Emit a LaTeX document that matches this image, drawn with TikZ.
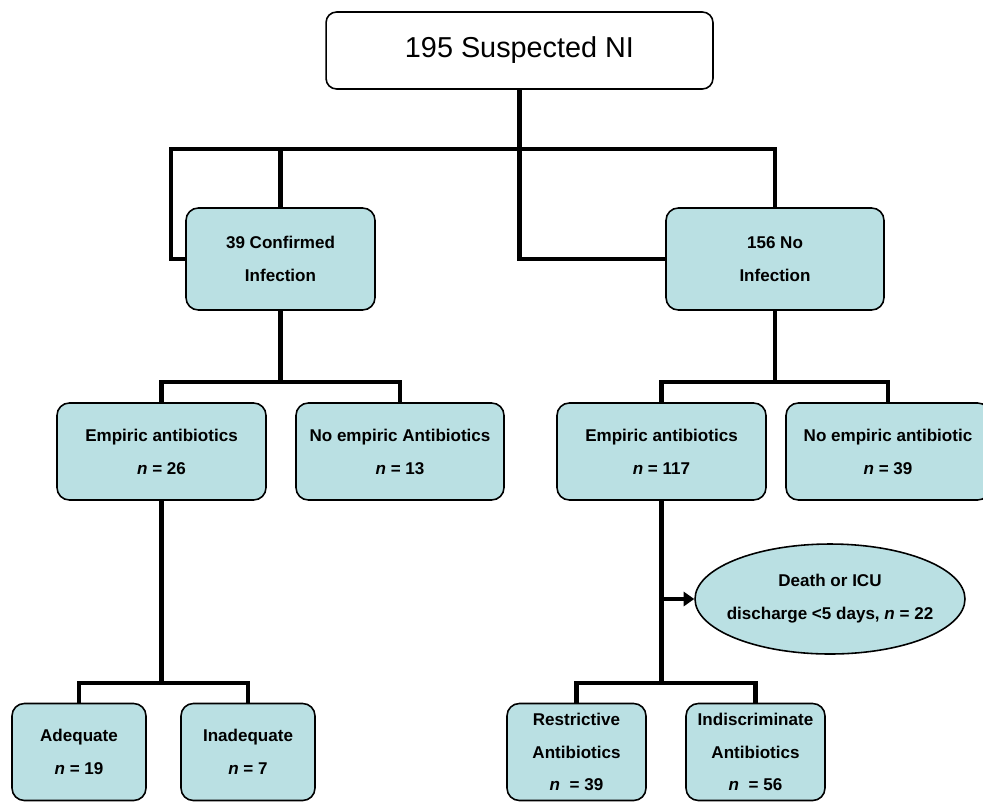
\documentclass[tikz,border=0pt]{standalone}
\usepackage{fontspec}
\setmainfont{Liberation Sans}
\usetikzlibrary{shapes.geometric,arrows.meta}
\definecolor{boxfill}{RGB}{186,224,227}

\begin{document}
\begin{tikzpicture}[x=0.02cm,y=-0.02cm,
    link/.style={line width=2.8pt},
    box/.style={draw, line width=0.9pt, rounded corners=7pt, fill=boxfill,
        align=center, inner sep=0pt,
        font=\fontsize{9.7}{18.7}\selectfont\bfseries}]
        % 1 unit = 1 px of the 983 x 802 frame, y grows downwards
        \useasboundingbox (0,0) rectangle (983,802);

        \node[draw, line width=0.9pt, rounded corners=6pt, fill=white,
            minimum width=7.74cm, minimum height=1.54cm,
            font=\fontsize{16.4}{20}\selectfont] (top) at (519.5,50.5) {195 Suspected NI};

        \node[box, minimum width=3.78cm, minimum height=2.04cm] (conf) at (280.5,259) {39 Confirmed\\ Infection};
        \node[box, minimum width=4.36cm, minimum height=2.04cm] (noinf) at (775,259) {156 No\\Infection};

        \node[box, minimum width=4.18cm, minimum height=1.94cm] (empL) at (161.5,451.5) {Empiric antibiotics\\\textit{n} = 26};
        \node[box, minimum width=4.16cm, minimum height=1.94cm] (noempL) at (400,451.5) {No empiric Antibiotics\\\textit{n} = 13};
        \node[box, minimum width=4.18cm, minimum height=1.94cm] (empR) at (661.5,451.5) {Empiric antibiotics\\\textit{n} = 117};
        \node[box, minimum width=4.08cm, minimum height=1.94cm] (noempR) at (888,451.5) {No empiric antibiotic\\\textit{n} = 39};

        % negative x sep: keeps the ellipse as narrow as in the figure
        \node[box, ellipse, inner xsep=-5.5pt, minimum width=5.4cm, minimum height=2.2cm] (death) at (830,599) {Death or ICU\\discharge <5 days, \textit{n} = 22};

        \node[box, minimum width=2.68cm, minimum height=1.94cm] (adeq) at (79,752) {Adequate\\\textit{n} = 19};
        \node[box, minimum width=2.68cm, minimum height=1.94cm] (inadeq) at (248,752) {Inadequate\\\textit{n} = 7};
        \node[box, minimum width=2.78cm, minimum height=1.94cm] (restr) at (576.5,752) {Restrictive\\Antibiotics\\\textit{n}\ \ = 39};
        \node[box, minimum width=2.78cm, minimum height=1.94cm] (indisc) at (755.5,752) {Indiscriminate\\Antibiotics\\\textit{n}\ \ = 56};

        % forks of the tree
        \coordinate (barL) at (171,149);
        \coordinate (barR) at (775,149);
        \coordinate (forkL) at (280.5,382);
        \coordinate (forkR) at (775,382);
        \coordinate (forkL2) at (161.5,683);
        \coordinate (forkR2) at (661.5,683);

        \draw[link] (conf.west) -| (barL) -- (barR) -- (noinf.north);
        \draw[link] (conf.north) -- (conf.north |- barL);
        \draw[link] (top.south) |- (noinf.west);

        \draw[link] (conf.south) -- (forkL);
        \draw[link] (empL.north) |- (forkL) -| (noempL.north);
        \draw[link] (noinf.south) -- (forkR);
        \draw[link] (empR.north) |- (forkR) -| (noempR.north);

        \draw[link] (empL.south) -- (forkL2);
        \draw[link] (adeq.north) |- (forkL2) -| (inadeq.north);
        \draw[link] (empR.south) -- (forkR2);
        \draw[link] (restr.north) |- (forkR2) -| (indisc.north);
        \draw[link, -{Triangle[length=6pt,width=8pt]}] (empR.south |- death.west) -- (death.west);
    \end{tikzpicture}
\end{document}
